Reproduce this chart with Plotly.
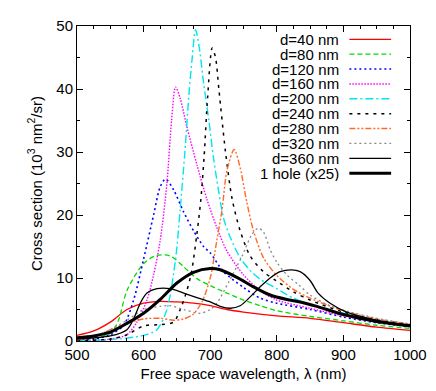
import plotly.graph_objects as go

# ---------------- data ----------------
x40 = [500, 525, 550, 575, 600, 625, 650, 675, 700, 725, 750, 800, 850, 900, 950, 1000]
y40 = [0.9, 1.6, 3.0, 5.0, 6.0, 6.3, 6.2, 6.0, 5.6, 5.0, 4.6, 4.0, 3.6, 2.9, 2.2, 1.7]

x80 = [500, 525, 550, 562, 575, 600, 620, 640, 660, 680, 700, 725, 750, 775, 800, 850, 900, 950, 1000]
y80 = [0.3, 0.5, 1.2, 3.2, 8.0, 12.3, 13.6, 13.5, 11.8, 9.9, 8.8, 7.6, 6.5, 5.6, 4.8, 3.9, 3.2, 2.5, 2.0]

x120 = [500, 525, 550, 570, 585, 600, 615, 625, 633, 645, 660, 675, 690, 700, 720, 750, 775, 800, 850, 900, 950, 1000]
y120 = [0.2, 0.3, 1.0, 2.5, 6.5, 13.0, 20.0, 24.5, 25.7, 24.0, 20.5, 17.5, 15.0, 14.0, 11.0, 8.5, 6.8, 6.0, 5.0, 3.8, 2.9, 2.3]

x160 = [500, 550, 575, 590, 605, 615, 625, 635, 642, 648, 655, 665, 680, 695, 710, 725, 750, 775, 800, 850, 900, 950, 1000]
y160 = [0.1, 0.3, 1.0, 3.0, 6.5, 10.5, 16.0, 25.0, 35.0, 40.3, 38.5, 34.0, 28.0, 22.5, 18.0, 14.3, 10.5, 8.0, 6.5, 5.2, 4.0, 3.0, 2.4]

x200 = [500, 550, 600, 620, 635, 648, 655, 662, 668, 673, 678, 683, 690, 698, 705, 713, 720, 730, 745, 760, 775, 800, 825, 850, 900, 950, 1000]
y200 = [0.1, 0.2, 0.9, 1.8, 5.0, 13.0, 21.0, 30.0, 39.0, 45.0, 49.4, 47.0, 41.0, 35.0, 29.0, 23.6, 19.5, 16.5, 13.2, 11.2, 9.8, 8.3, 6.8, 5.8, 4.4, 3.3, 2.5]

x240 = [500, 550, 575, 600, 625, 645, 655, 665, 672, 680, 686, 691, 696, 703, 708, 713, 723, 733, 745, 760, 780, 800, 825, 850, 900, 950, 1000]
y240 = [0.1, 0.3, 1.0, 2.4, 2.6, 3.0, 5.0, 8.0, 11.0, 17.0, 22.5, 29.5, 38.5, 46.5, 45.0, 40.0, 30.0, 22.5, 17.5, 13.5, 11.0, 9.5, 7.8, 6.5, 4.6, 3.4, 2.6]

x280 = [500, 525, 550, 575, 600, 625, 645, 660, 675, 688, 700, 710, 718, 725, 736, 745, 755, 765, 780, 800, 825, 850, 900, 950, 1000]
y280 = [0.2, 0.6, 1.8, 2.8, 3.5, 3.6, 3.3, 3.5, 4.3, 6.3, 10.0, 16.0, 21.0, 27.0, 30.4, 27.5, 22.0, 17.5, 13.2, 10.4, 8.2, 6.8, 4.8, 3.5, 2.7]

x320 = [500, 525, 550, 575, 600, 625, 640, 660, 685, 700, 710, 728, 748, 762, 772, 780, 790, 800, 815, 833, 850, 875, 900, 950, 1000]
y320 = [0.3, 0.7, 1.8, 3.3, 5.0, 5.5, 5.6, 5.0, 4.4, 5.0, 6.0, 9.4, 13.5, 16.8, 17.9, 17.3, 14.5, 12.5, 10.5, 8.9, 7.3, 5.8, 4.9, 3.6, 2.7]

x360 = [500, 550, 575, 585, 595, 605, 620, 640, 660, 680, 700, 715, 730, 745, 760, 775, 790, 805, 822, 835, 850, 862, 880, 905, 955, 1000]
y360 = [0.3, 0.8, 1.8, 3.5, 6.0, 7.6, 8.3, 8.3, 7.6, 6.9, 6.2, 5.5, 5.2, 5.6, 7.0, 8.6, 10.0, 11.0, 11.3, 11.0, 9.6, 7.6, 6.0, 4.6, 3.2, 2.5]

xhole = [500, 525, 550, 575, 600, 625, 650, 675, 700, 715, 740, 765, 790, 815, 835, 860, 900, 950, 1000]
yhole = [0.5, 0.8, 1.4, 2.8, 4.4, 6.6, 9.2, 10.9, 11.5, 11.3, 10.1, 8.6, 7.3, 6.6, 6.2, 5.5, 4.2, 3.1, 2.4]

names = ["d=40 nm", "d=80 nm", "d=120 nm", "d=160 nm", "d=200 nm",
         "d=240 nm", "d=280 nm", "d=320 nm", "d=360 nm", "1 hole (x25)"]
xs = [x40, x80, x120, x160, x200, x240, x280, x320, x360, xhole]
ys = [y40, y80, y120, y160, y200, y240, y280, y320, y360, yhole]

x_ticks = [500, 600, 700, 800, 900, 1000]
y_ticks = [0, 10, 20, 30, 40, 50]

# ---------------- styles ----------------
colors = ["#ff0000", "#00dd00", "#0000ff", "#ff00ff", "#00e5ee",
          "#000000", "#ff6a2a", "#888888", "#000000", "#000000"]
dashes = ["solid", "5px,3px", "2px,3px", "1.5px,1.5px", "8px,3px,2px,3px",
          "3px,5px", "6px,2px,2px,2px,2px,2px", "2px,3px", "solid", "solid"]
widths = [1.3, 1.3, 1.6, 1.4, 1.4, 1.5, 1.4, 1.3, 1.3, 3.0]

fig = go.Figure()
for n, x, y, c, d, w in zip(names, xs, ys, colors, dashes, widths):
    fig.add_trace(go.Scatter(x=x, y=y, mode="lines", name=n,
                             line=dict(color=c, dash=d, width=w, shape="spline", smoothing=0.8),
                             showlegend=False))

# page body has an 8px margin: figure coordinates = screen coordinates - 8
OFF = 8
W, H = 436 - OFF, 391 - OFF
PL, PR, PT, PB = 77 - OFF, 412 - OFF, 17 - OFF, 341 - OFF

def px2x(px):
    return (px - OFF - PL) / (PR - PL)
def py2y(py):
    return (PB - (py - OFF)) / (PB - PT)

# gnuplot-style legend: text right-aligned, sample to the right
row0, step = 30.7, 15.3
for i, (n, c, d, w) in enumerate(zip(names, colors, dashes, widths)):
    py = row0 + i * step
    fig.add_annotation(x=px2x(342), y=py2y(py), xref="paper", yref="paper",
                       text=n, showarrow=False, xanchor="right", yanchor="middle",
                       height=15, valign="middle", borderpad=0,
                       font=dict(size=15, color="black"))
    fig.add_shape(type="line", xref="paper", yref="paper",
                  x0=px2x(351), x1=px2x(393), y0=py2y(py), y1=py2y(py),
                  line=dict(color=c, dash=d, width=w))

axis_common = dict(showline=True, linecolor="black", linewidth=1, mirror="ticks",
                   ticks="inside", ticklen=6, tickcolor="black", showgrid=False,
                   zeroline=False, tickfont=dict(size=15, color="black"))

fig.update_layout(
    width=W, height=H,
    margin=dict(l=PL, r=W - PR, t=PT, b=H - PB),
    plot_bgcolor="white", paper_bgcolor="white",
    font=dict(family="Liberation Sans, Arial, sans-serif", size=15, color="black"),
    xaxis=dict(range=[500, 1000], tickvals=x_ticks,
               title=dict(text="Free space wavelength, λ (nm)", font=dict(size=15), standoff=6),
               minor=dict(dtick=25, ticks="inside", ticklen=3, tickcolor="black"),
               **axis_common),
    yaxis=dict(range=[0, 50], tickvals=y_ticks,
               title=dict(text="Cross section (10<sup>3</sup> nm<sup>2</sup>/sr)", font=dict(size=15), standoff=10),
               minor=dict(dtick=5, ticks="inside", ticklen=3, tickcolor="black"),
               **axis_common),
)

fig.write_html("out.html")
